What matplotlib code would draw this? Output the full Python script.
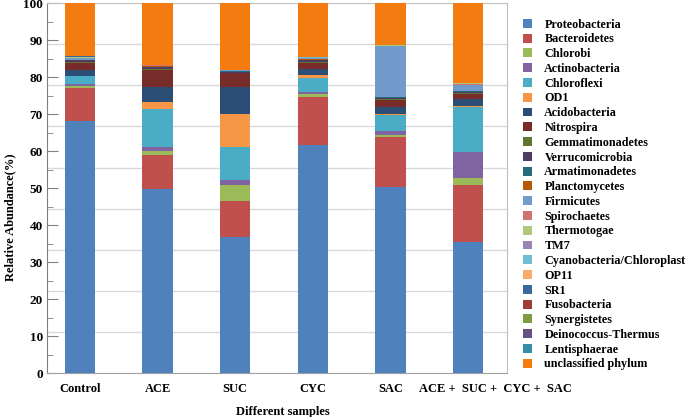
import numpy as np
import matplotlib
matplotlib.use("Agg")
import matplotlib.pyplot as plt
import matplotlib.transforms as mtransforms
from matplotlib.patches import Patch
from matplotlib.ticker import MultipleLocator

plt.rcParams['font.family'] = ['Liberation Serif', 'DejaVu Serif']
plt.rcParams['font.weight'] = 'bold'

samples = ["Control", "ACE", "SUC", "CYC", "SAC", "ACE +  SUC +  CYC +  SAC"]

phyla = ["Proteobacteria", "Bacteroidetes", "Chlorobi", "Actinobacteria", "Chloroflexi",
         "OD1", "Acidobacteria", "Nitrospira", "Gemmatimonadetes", "Verrucomicrobia",
         "Armatimonadetes", "Planctomycetes", "Firmicutes", "Spirochaetes", "Thermotogae",
         "TM7", "Cyanobacteria/Chloroplast", "OP11", "SR1", "Fusobacteria", "Synergistetes",
         "Deinococcus-Thermus", "Lentisphaerae", "unclassified phylum"]

colors = ["#4F81BD", "#C0504D", "#9BBB59", "#8064A2", "#4BACC6", "#F79646", "#2C4D75",
          "#772C2A", "#5F7530", "#4D3B62", "#276A7C", "#B65708", "#729ACA", "#CD7371",
          "#AFC97A", "#9983B5", "#6FBDD1", "#F9AB6B", "#3A679C", "#9F3B38", "#7E9D40",
          "#664F83", "#358EA6", "#F47B10"]

# relative abundance (%) per phylum, one value per sample
proteobacteria   = [68.0, 49.8, 36.9, 61.7, 50.4, 35.4]
bacteroidetes    = [9.0, 9.1, 9.6, 12.8, 13.4, 15.4]
chlorobi         = [0.7, 1.2, 4.2, 0.8, 0.6, 2.0]
actinobacteria   = [0.5, 1.1, 1.6, 0.7, 0.9, 6.9]
chloroflexi      = [2.0, 10.2, 8.9, 3.8, 4.5, 12.3]
od1              = [0.2, 1.8, 8.8, 0.8, 0.2, 0.1]
acidobacteria    = [1.6, 4.0, 7.2, 1.5, 1.8, 1.9]
nitrospira       = [1.8, 4.7, 3.8, 1.8, 2.0, 1.4]
gemmatimonadetes = [0.2, 0.2, 0.1, 0.2, 0.2, 0.2]
verrucomicrobia  = [0.5, 0.6, 0.4, 0.5, 0.4, 0.5]
armatimonadetes  = [0.1, 0.1, 0.1, 0.1, 0.1, 0.1]
planctomycetes   = [0.1, 0.1, 0.1, 0.1, 0.1, 0.1]
firmicutes       = [0.4, 0.2, 0.1, 0.3, 13.7, 1.6]
spirochaetes     = [0.1, 0.1, 0.1, 0.1, 0.2, 0.3]
thermotogae      = [0.1, 0.0, 0.0, 0.0, 0.1, 0.1]
tm7              = [0.1, 0.0, 0.0, 0.0, 0.0, 0.0]
cyanobacteria    = [0.1, 0.1, 0.1, 0.1, 0.1, 0.1]
op11             = [0.0, 0.0, 0.0, 0.0, 0.0, 0.0]
sr1              = [0.1, 0.0, 0.0, 0.0, 0.0, 0.0]
fusobacteria     = [0.0, 0.0, 0.0, 0.0, 0.0, 0.0]
synergistetes    = [0.0, 0.0, 0.0, 0.0, 0.0, 0.0]
deinococcus      = [0.0, 0.0, 0.0, 0.0, 0.0, 0.0]
lentisphaerae    = [0.0, 0.0, 0.0, 0.0, 0.0, 0.0]
unclassified     = [14.4, 16.7, 18.0, 14.7, 11.3, 21.6]

values = [proteobacteria, bacteroidetes, chlorobi, actinobacteria, chloroflexi, od1,
          acidobacteria, nitrospira, gemmatimonadetes, verrucomicrobia, armatimonadetes,
          planctomycetes, firmicutes, spirochaetes, thermotogae, tm7, cyanobacteria, op11,
          sr1, fusobacteria, synergistetes, deinococcus, lentisphaerae, unclassified]

fig = plt.figure(figsize=(6.85, 4.17), dpi=100)
ax = fig.add_axes([0.0686, 0.1055, 0.6715, 0.887])

x = np.arange(len(samples))
bottom = np.zeros(len(samples))
for name, vals, c in zip(phyla, values, colors):
    ax.bar(x, vals, 0.39, bottom=bottom, color=c, zorder=3, linewidth=0)
    bottom += np.array(vals)

# gridlines in the original split the range in 9 parts, not at the ticks
for g in np.linspace(0, 100, 10)[1:-1]:
    ax.axhline(g, color="#D9D9D9", lw=1.0, zorder=1)

ax.set_xlim(-0.425, 5.5)
ax.set_ylim(0, 100)
ax.yaxis.set_major_locator(MultipleLocator(10))
ax.yaxis.set_minor_locator(MultipleLocator(5))
ax.tick_params(axis='y', which='major', direction='in', length=8, color="#808080",
               labelsize=9.5, pad=3)
ax.tick_params(axis='y', which='minor', direction='in', length=4, color="#808080")
ax.tick_params(axis='x', length=0, labelsize=9, pad=7)
ax.set_xticks(x)
ax.set_xticklabels(samples)
for lab in ax.get_yticklabels() + ax.get_xticklabels():
    lab.set_fontweight('bold')
# the combined label sits to the right of its bar in the original
last = ax.get_xticklabels()[-1]
last.set_transform(last.get_transform() + mtransforms.ScaledTranslation(20 / 72, 0, fig.dpi_scale_trans))

ax.spines['left'].set_color("#808080")
ax.spines['bottom'].set_color("#A0A0A0")
ax.spines['top'].set_color("#BFBFBF")
ax.spines['right'].set_color("#BFBFBF")

ax.set_ylabel("Relative Abundance(%)", fontsize=9, fontweight='bold')
ax.yaxis.set_label_coords(-0.066, 0.42)
ax.set_xlabel("Different samples", fontsize=9, fontweight='bold')
ax.xaxis.set_label_coords(0.513, -0.09)

handles = [Patch(facecolor=c, edgecolor='none') for c in colors]
leg = fig.legend(handles, phyla, loc='upper left', bbox_to_anchor=(0.755, 0.97),
                 frameon=False, prop={'size': 8.7, 'weight': 'bold'},
                 handlelength=0.75, handleheight=0.75, handletextpad=1.0,
                 labelspacing=0.23, borderpad=0)

fig.savefig("out.png", dpi=100)
